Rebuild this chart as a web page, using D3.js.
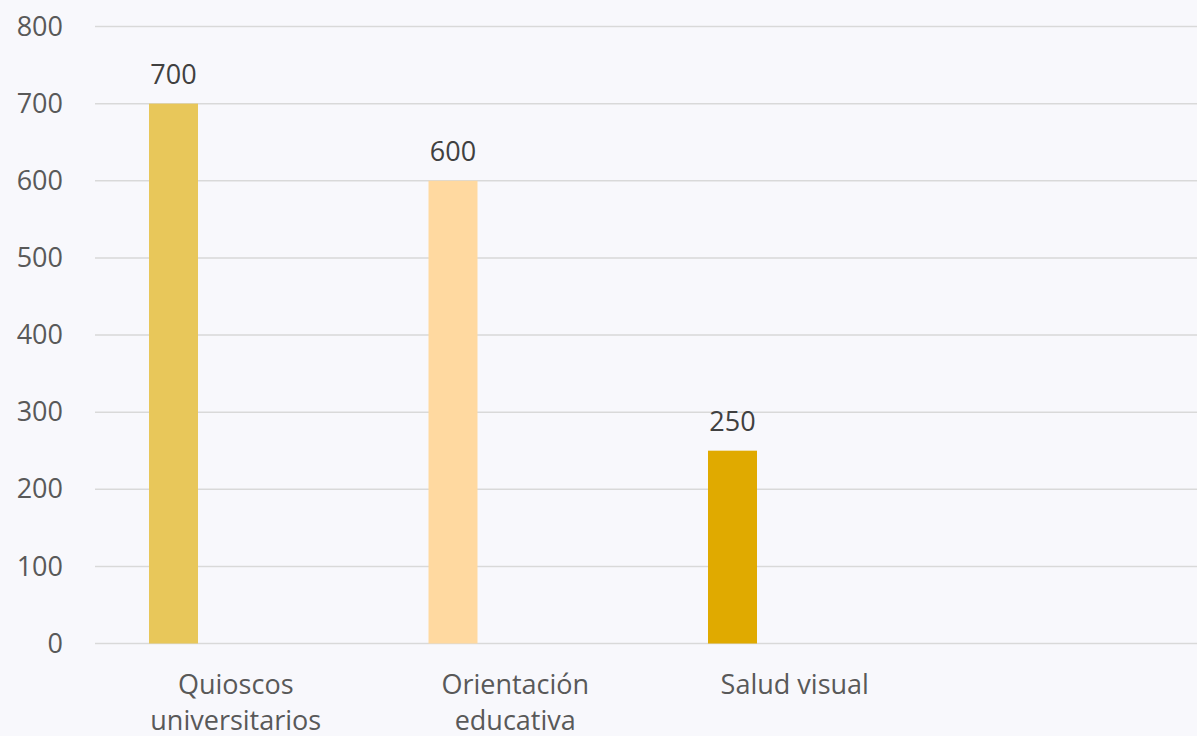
<!DOCTYPE html>
<html><head><meta charset="utf-8">
<script src="https://cdn.jsdelivr.net/npm/d3@7"></script>
<style>
html,body{margin:0;padding:0;background:#F8F8FC;}
svg{display:block;font-family:"Open Sans","Noto Sans",sans-serif;}
</style></head><body>
<svg id="c" width="1197" height="736"></svg>
<script>
const categories = ["Quioscos universitarios", "Orientación educativa", "Salud visual", ""];
const categoryLines = [["Quioscos", "universitarios"], ["Orientación", "educativa"], ["Salud visual"], []];
const values = [700, 600, 250, null];
const colors = ["#E8C75A", "#FFD9A0", "#E0AA00"];
const yTicks = [0, 100, 200, 300, 400, 500, 600, 700, 800];

const svg = d3.select("#c");
const W = 1197, H = 736;
svg.append("rect").attr("width", W).attr("height", H).attr("fill", "#F8F8FC");

const left = 96, bandW = 279.5;
const x = d3.scaleBand().domain(categories).range([left, left + bandW * categories.length]).paddingInner(0).paddingOuter(0);
const y = d3.scaleLinear().domain([0, 800]).range([643.5, 26.5]);

// gridlines
svg.append("g").selectAll("line").data(yTicks).join("line")
  .attr("x1", 95).attr("x2", W)
  .attr("y1", d => y(d)).attr("y2", d => y(d))
  .attr("stroke", "#D9D9D9").attr("stroke-width", 1.5);

// y axis labels
const yAxis = d3.axisLeft(y).tickValues(yTicks).tickSize(0).tickPadding(0);
const ga = svg.append("g").attr("transform", "translate(63,0)").call(yAxis);
ga.select(".domain").remove();
ga.selectAll("text").attr("font-size", 27).attr("fill", "#595959")
  .attr("font-family", '"Open Sans","Noto Sans",sans-serif');

// bars
const barOff = 53, barW = 49;
const data = categories.map((c, i) => ({c, v: values[i], col: colors[i]})).filter(d => d.v != null);
svg.append("g").selectAll("rect").data(data).join("rect")
  .attr("x", d => x(d.c) + barOff).attr("width", barW)
  .attr("y", d => y(d.v)).attr("height", d => y(0) - y(d.v))
  .attr("fill", d => d.col);

// value labels
svg.append("g").selectAll("text").data(data).join("text")
  .attr("x", d => x(d.c) + barOff + barW / 2).attr("y", d => y(d.v) - 20)
  .attr("text-anchor", "middle").attr("font-size", 27).attr("fill", "#404040")
  .text(d => d.v);

// category labels
const cg = svg.append("g");
categories.forEach((c, i) => {
  if (!c) return;
  const cx = x(c) + x.bandwidth() / 2;
  categoryLines[i].forEach((w, j) => {
    cg.append("text").attr("x", cx).attr("y", 694 + j * 36)
      .attr("text-anchor", "middle").attr("font-size", 27).attr("fill", "#595959")
      .text(w);
  });
});
</script>
</body></html>
